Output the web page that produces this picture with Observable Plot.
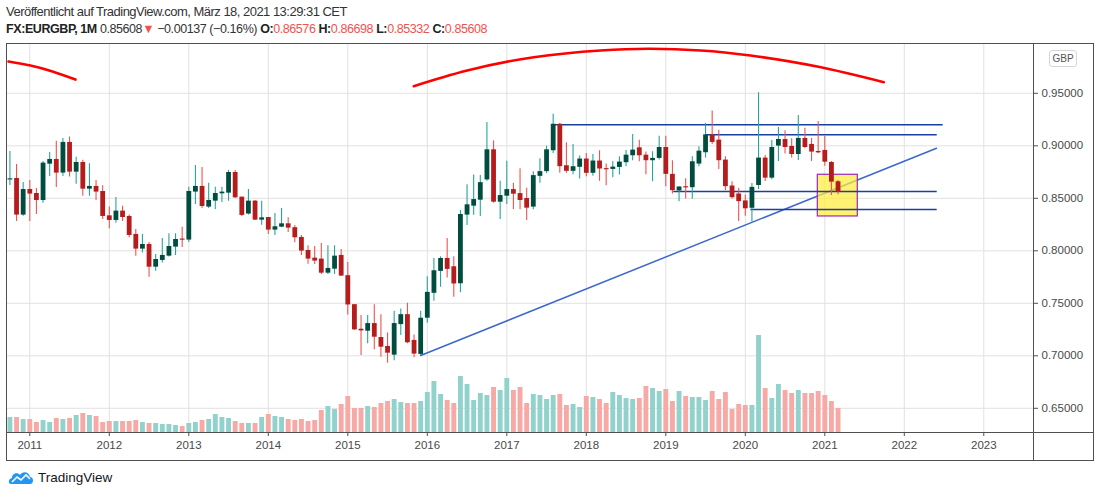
<!DOCTYPE html>
<html><head><meta charset="utf-8">
<script src="https://cdn.jsdelivr.net/npm/d3@7"></script>
<script src="https://cdn.jsdelivr.net/npm/@observablehq/plot@0.6"></script>
<style>
html,body{margin:0;padding:0;background:#fff;width:1100px;height:497px;overflow:hidden;position:relative;font-family:"Liberation Sans",Arial,sans-serif;}
.abs{position:absolute;}
#h1{left:6px;top:4px;font-size:13px;color:#333;white-space:nowrap;letter-spacing:-0.52px;}
#h2{left:6px;top:22px;font-size:12.5px;color:#333;white-space:nowrap;letter-spacing:-0.42px;}
#h2 b{font-weight:bold;color:#222;}
.r{color:#ef5350;}
#chart{left:0;top:43px;width:1100px;height:417px;}
#chart svg{position:absolute;left:0;top:0;}
#gbp{left:1049px;top:50px;width:26px;height:15px;border:1px solid #d6d6d6;border-radius:3px;font-size:10px;color:#555;text-align:center;line-height:15px;background:#fff;}
#logo{left:8px;top:469px;display:flex;align-items:center;gap:4px;font-size:13.5px;color:#131722;}
</style></head>
<body>
<div id="h1" class="abs">Veröffentlicht auf TradingView.com, März 18, 2021 13:29:31 CET</div>
<div id="h2" class="abs"><b>FX:EURGBP, 1M</b> 0.85608<span class="r">▼</span> −0.00137 (−0.16%) <b>O:</b><span class="r">0.86576</span> <b>H:</b><span class="r">0.86698</span> <b>L:</b><span class="r">0.85332</span> <b>C:</b><span class="r">0.85608</span></div>
<div id="chart" class="abs"></div>
<div class="abs" style="left:6px;top:43px;width:1086px;height:416px;border:1px solid #505050;pointer-events:none;"></div>
<div class="abs" style="left:6px;top:432px;width:1087px;height:1px;background:#505050;"></div>
<div class="abs" style="left:1033px;top:43px;width:1px;height:417px;background:#505050;"></div>
<div id="gbp" class="abs">GBP</div>
<div id="logo" class="abs"><svg width="26" height="16" viewBox="0 0 26 16"><path d="M3 15 C0 15 0 10 4 9 C4 4 10 3 12 6 C14 2 21 2 22 8 C26 8 26 15 22 15 Z" fill="#2196f3"/><path d="M4 13 L9 8 L13 11 L18 6 L22 10" stroke="#fff" stroke-width="1.6" fill="none"/></svg><span>TradingView</span></div>
<script>
// ---------- data ----------
const months = [
 "2010-10","2010-11","2010-12",
 "2011-01","2011-02","2011-03","2011-04","2011-05","2011-06","2011-07","2011-08","2011-09","2011-10","2011-11","2011-12",
 "2012-01","2012-02","2012-03","2012-04","2012-05","2012-06","2012-07","2012-08","2012-09","2012-10","2012-11","2012-12",
 "2013-01","2013-02","2013-03","2013-04","2013-05","2013-06","2013-07","2013-08","2013-09","2013-10","2013-11","2013-12",
 "2014-01","2014-02","2014-03","2014-04","2014-05","2014-06","2014-07","2014-08","2014-09","2014-10","2014-11","2014-12",
 "2015-01","2015-02","2015-03","2015-04","2015-05","2015-06","2015-07","2015-08","2015-09","2015-10","2015-11","2015-12",
 "2016-01","2016-02","2016-03","2016-04","2016-05","2016-06","2016-07","2016-08","2016-09","2016-10","2016-11","2016-12",
 "2017-01","2017-02","2017-03","2017-04","2017-05","2017-06","2017-07","2017-08","2017-09","2017-10","2017-11","2017-12",
 "2018-01","2018-02","2018-03","2018-04","2018-05","2018-06","2018-07","2018-08","2018-09","2018-10","2018-11","2018-12",
 "2019-01","2019-02","2019-03","2019-04","2019-05","2019-06","2019-07","2019-08","2019-09","2019-10","2019-11","2019-12",
 "2020-01","2020-02","2020-03","2020-04","2020-05","2020-06","2020-07","2020-08","2020-09","2020-10","2020-11","2020-12",
 "2021-01","2021-02","2021-03"
];
const open = [
 0.8675,0.8689,0.8340,
 0.8584,0.8546,0.8479,0.8825,0.8870,0.8740,0.9032,0.8749,0.8841,0.8587,0.8613,0.8565,
 0.8333,0.8289,0.8378,0.8327,0.8156,0.8016,0.8060,0.7844,0.7908,0.7949,0.8035,0.8111,
 0.8102,0.8559,0.8613,0.8416,0.8473,0.8543,0.8549,0.8746,0.8511,0.8350,0.8473,0.8292,
 0.8317,0.8197,0.8225,0.8257,0.8220,0.8127,0.8003,0.7930,0.7921,0.7787,0.7825,0.7956,
 0.7763,0.7487,0.7253,0.7234,0.7307,0.7174,0.7089,0.7006,0.7297,0.7392,0.7146,0.7013,
 0.7358,0.7595,0.7804,0.7927,0.7848,0.7686,0.8340,0.8425,0.8482,0.8675,0.8962,0.8463,
 0.8520,0.8583,0.8545,0.8498,0.8416,0.8709,0.8754,0.8953,0.9205,0.8810,0.8757,0.8795,
 0.8874,0.8738,0.8855,0.8779,0.8775,0.8794,0.8839,0.8905,0.8981,0.8911,0.8858,0.8880,
 0.8984,0.8728,0.8570,0.8608,0.8601,0.8826,0.8934,0.9104,0.9054,0.8864,0.8617,0.8541,
 0.8475,0.8405,0.8622,0.8883,0.8692,0.8997,0.9060,0.8994,0.8917,0.9070,0.9013,0.8946,
 0.8956,0.8841,0.86576
];
const high = [
 0.8946,0.8822,0.8651,
 0.8670,0.8594,0.8851,0.8937,0.9044,0.9070,0.9083,0.8892,0.8863,0.8829,0.8670,0.8619,
 0.8416,0.8508,0.8425,0.8340,0.8203,0.8156,0.8079,0.7965,0.8117,0.8162,0.8162,0.8225,
 0.8606,0.8813,0.8794,0.8644,0.8606,0.8606,0.8765,0.8765,0.8511,0.8584,0.8480,0.8473,
 0.8317,0.8356,0.8403,0.8314,0.8241,0.8146,0.8048,0.8041,0.8070,0.8048,0.8048,0.8013,
 0.7889,0.7487,0.7383,0.7383,0.7487,0.7392,0.7218,0.7424,0.7446,0.7500,0.7199,0.7424,
 0.7753,0.7927,0.7943,0.8117,0.7943,0.8384,0.8630,0.8722,0.8716,0.9221,0.9047,0.8662,
 0.8852,0.8643,0.8782,0.8596,0.8754,0.8877,0.8997,0.9300,0.9212,0.9028,0.9013,0.8902,
 0.8927,0.8918,0.8953,0.8826,0.8851,0.8896,0.8956,0.9108,0.9054,0.8940,0.8943,0.9092,
 0.9092,0.8858,0.8608,0.8687,0.8896,0.8990,0.9212,0.9332,0.9149,0.8896,0.8658,0.8595,
 0.8532,0.8640,0.9505,0.8908,0.9051,0.9175,0.9143,0.9067,0.9289,0.9168,0.9070,0.9232,
 0.9089,0.8851,0.86698
];
const low = [
 0.8622,0.8279,0.8330,
 0.8279,0.8346,0.8454,0.8708,0.8603,0.8708,0.8702,0.8635,0.8520,0.8520,0.8479,0.8298,
 0.8210,0.8263,0.8279,0.8124,0.7949,0.7978,0.7749,0.7806,0.7883,0.7940,0.7956,0.8032,
 0.8079,0.8441,0.8403,0.8403,0.8394,0.8460,0.8473,0.8498,0.8327,0.8340,0.8289,0.8244,
 0.8156,0.8146,0.8219,0.8175,0.8076,0.7956,0.7873,0.7870,0.7775,0.7775,0.7775,0.7756,
 0.7389,0.7241,0.7003,0.7114,0.7057,0.6987,0.6930,0.6953,0.7193,0.7114,0.6981,0.7000,
 0.7310,0.7519,0.7652,0.7741,0.7557,0.7601,0.8242,0.8338,0.8327,0.8662,0.8454,0.8299,
 0.8441,0.8394,0.8391,0.8289,0.8391,0.8643,0.8735,0.8927,0.8738,0.8738,0.8725,0.8684,
 0.8706,0.8709,0.8662,0.8620,0.8696,0.8722,0.8801,0.8858,0.8848,0.8725,0.8658,0.8864,
 0.8611,0.8541,0.8468,0.8494,0.8491,0.8801,0.8883,0.9013,0.8775,0.8573,0.8494,0.8278,
 0.8330,0.8275,0.8584,0.8660,0.8676,0.8851,0.8921,0.8883,0.8860,0.8971,0.8851,0.8924,
 0.8806,0.8527,0.85332
];
const close = [
 0.8685,0.8340,0.8584,
 0.8540,0.8479,0.8835,0.8870,0.8740,0.9032,0.8749,0.8841,0.8587,0.8613,0.8559,0.8327,
 0.8289,0.8378,0.8317,0.8146,0.8016,0.8060,0.7844,0.7917,0.7956,0.8041,0.8108,0.8102,
 0.8565,0.8613,0.8422,0.8479,0.8546,0.8559,0.8746,0.8505,0.8337,0.8473,0.8292,0.8314,
 0.8197,0.8229,0.8257,0.8216,0.8124,0.7997,0.7921,0.7902,0.7787,0.7832,0.7949,0.7759,
 0.7484,0.7247,0.7237,0.7307,0.7177,0.7082,0.7025,0.7307,0.7392,0.7124,0.7016,0.7358,
 0.7604,0.7810,0.7927,0.7823,0.7684,0.8346,0.8438,0.8488,0.8649,0.8962,0.8463,0.8526,
 0.8583,0.8539,0.8479,0.8406,0.8716,0.8754,0.8962,0.9205,0.8801,0.8757,0.8801,0.8874,
 0.8738,0.8855,0.8779,0.8775,0.8797,0.8845,0.8911,0.8959,0.8905,0.8858,0.8880,0.8984,
 0.8728,0.8573,0.8608,0.8601,0.8848,0.8949,0.9104,0.9032,0.8858,0.8611,0.8506,0.8468,
 0.8400,0.8604,0.8883,0.8692,0.8984,0.9060,0.8984,0.8917,0.9070,0.8984,0.8940,0.8933,
 0.8844,0.8654,0.85608
];
const volume = [
 15,15,13,
 13,10,12,10,14,13,14,17,19,17,16,10,
 11,11,11,11,12,10,9,9,8,8,7,6,
 9,10,12,13,18,15,14,11,9,9,9,15,
 18,16,15,13,12,13,11,12,22,26,23,28,
 36,24,24,26,25,29,31,33,30,29,29,31,
 40,51,38,32,29,56,48,32,39,37,45,42,
 54,42,45,29,38,37,33,37,38,27,28,25,
 36,35,33,29,40,37,34,33,34,46,44,41,
 43,31,41,36,35,35,32,41,33,40,23,28,
 27,27,97,44,34,48,42,39,42,39,39,41,
 37,31,24
];
const yearTicks = [2011,2012,2013,2014,2015,2016,2017,2018,2019,2020,2021,2022,2023];
const priceTicks = [0.65,0.70,0.75,0.80,0.85,0.90,0.95];
// drawings (decimal year, price)
const trendLine = [{t:2015.9167,p:0.7003},{t:2022.405,p:0.8977}];
const levels = [
 {t1:2017.60,t2:2022.489,p:0.9200},
 {t1:2019.50,t2:2022.414,p:0.9105},
 {t1:2019.10,t2:2022.414,p:0.8565},
 {t1:2020.07,t2:2022.414,p:0.8393}
];
const zone = [{t1:2020.912,t2:2021.415,p1:0.8327,p2:0.8724}];
const arcLeft = [
 {t:2010.732,p:0.9803},{t:2011.009,p:0.9765},{t:2011.286,p:0.9708},{t:2011.575,p:0.9631}
];
const arcRight = [
 {t:2015.830,p:0.9568},{t:2016.502,p:0.9717},{t:2017.340,p:0.9844},{t:2018.179,p:0.9908},
 {t:2018.808,p:0.9924},{t:2019.437,p:0.9908},{t:2020.066,p:0.9860},{t:2020.904,p:0.9755},
 {t:2021.742,p:0.9606}
];

// ---------- build ----------
const candles = months.map((m,i)=>{
  const o=open[i], c=close[i];
  let lo=Math.min(o,c), hi=Math.max(o,c);
  if (hi-lo<0.0011){const mid=(hi+lo)/2; lo=mid-0.00055; hi=mid+0.00055;}
  return {t:+m.slice(0,4)+(+m.slice(5)-1)/12, o, h:high[i], l:low[i], c, lo, hi, v:volume[i], up:c>=o};
});

const W=1100, H=417, ML=6, MR=67, MT=0, MB=28;
const xDomain=[2010.7069,2023.6252];
const yDomain=[0.62695,0.99743];
const font='"Liberation Sans", Arial, sans-serif';

const main = Plot.plot({
  width:W, height:H, marginLeft:ML, marginRight:MR, marginTop:MT, marginBottom:MB,
  style:{background:"#fff", fontFamily:font, fontSize:"11.5px", color:"#4a4a4a", overflow:"visible"},
  x:{domain:xDomain, axis:null},
  y:{domain:yDomain, axis:null},
  marks:[
    Plot.gridX(yearTicks,{stroke:"#e2e2e2", strokeOpacity:1}),
    Plot.gridY(priceTicks,{stroke:"#e2e2e2", strokeOpacity:1}),
    Plot.axisX({ticks:yearTicks, tickFormat:d=>String(d), tickSize:4, tickPadding:4, label:null, stroke:"#505050"}),
    Plot.axisY({anchor:"right", ticks:priceTicks, tickFormat:d3.format(".5f"), tickSize:4, tickPadding:4, label:null, stroke:"#505050"}),
    Plot.line(trendLine,{x:"t",y:"p",stroke:"#3b68cc",strokeWidth:1.5}),
    Plot.rect(zone,{x1:"t1",x2:"t2",y1:"p1",y2:"p2",fill:"#ffeb3b",fillOpacity:0.72,stroke:"#9c27b0",strokeWidth:1.2}),
    Plot.ruleY(levels,{y:"p",x1:"t1",x2:"t2",stroke:"#1a3f9e",strokeWidth:1.5}),
    Plot.ruleX(candles,{x:"t",y1:"l",y2:"h",stroke:d=>d.up?"#26a69a":"#ef5350",strokeWidth:1.1}),
    Plot.ruleX(candles,{x:"t",y1:"lo",y2:"hi",stroke:d=>d.up?"#004d40":"#b71c1c",strokeWidth:4.8}),
    Plot.line(arcLeft,{x:"t",y:"p",curve:"natural",stroke:"#ff0000",strokeWidth:2.6}),
    Plot.line(arcRight,{x:"t",y:"p",curve:"natural",stroke:"#ff0000",strokeWidth:2.6})
  ]
});

const vol = Plot.plot({
  width:W, height:H, marginLeft:ML, marginRight:MR, marginTop:MT, marginBottom:MB,
  style:{background:"transparent"},
  x:{domain:xDomain, axis:null},
  y:{domain:[0,389], axis:null},
  marks:[
    Plot.ruleX(candles,{x:"t",y1:0,y2:"v",stroke:d=>d.up?"#92d2cc":"#f7a9a6",strokeWidth:4.9})
  ]
});

const chart=document.getElementById("chart");
chart.appendChild(main);
chart.appendChild(vol);
</script>
</body></html>
